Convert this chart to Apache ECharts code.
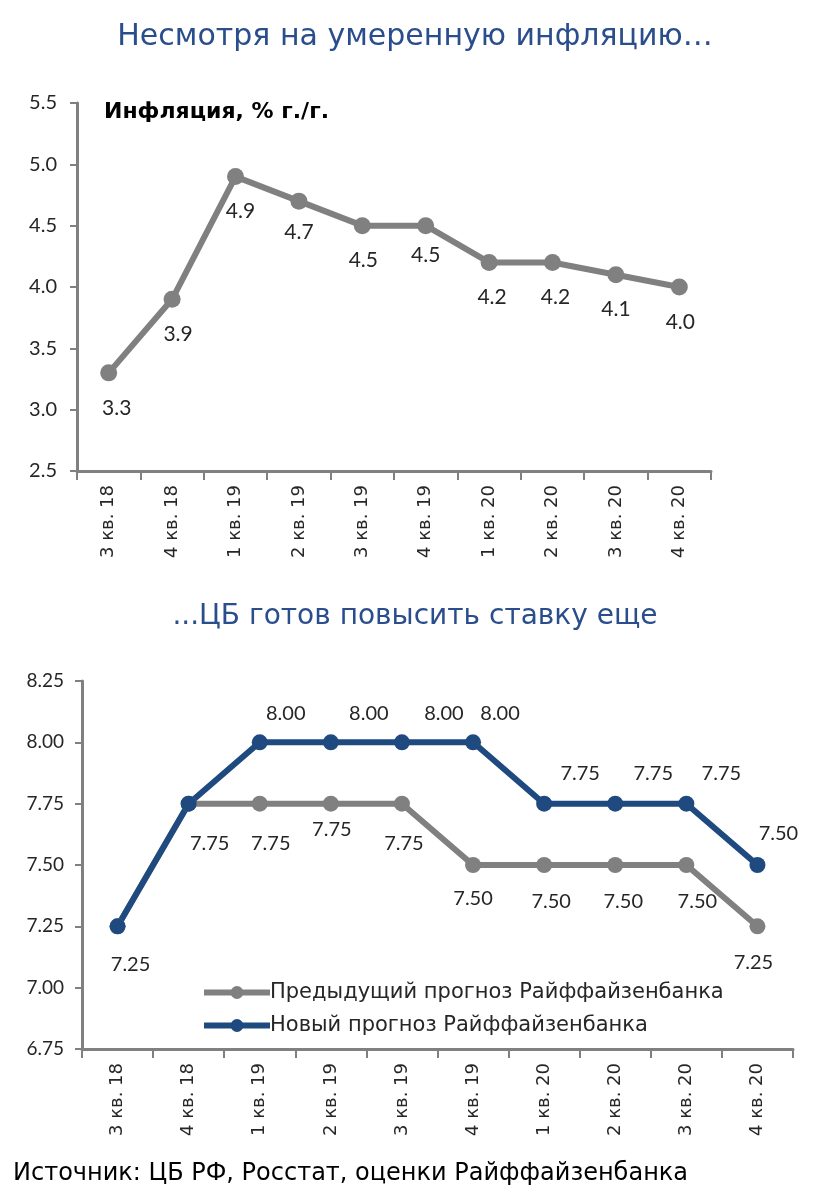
<!DOCTYPE html>
<html>
<head>
<meta charset="utf-8">
<script src="https://cdn.jsdelivr.net/npm/echarts@6/dist/echarts.min.js"></script>
<style>
  html, body { margin: 0; padding: 0; background: #fff; }
  #chart { width: 830px; height: 1196px; }
</style>
</head>
<body>
<div id="chart"></div>
<script>
// кварталы по оси X
var quarters = ['3 кв. 18', '4 кв. 18', '1 кв. 19', '2 кв. 19', '3 кв. 19', '4 кв. 19', '1 кв. 20', '2 кв. 20', '3 кв. 20', '4 кв. 20']
// инфляция, % г./г.
var inflation = [3.3, 3.9, 4.9, 4.7, 4.5, 4.5, 4.2, 4.2, 4.1, 4.0]
// ключевая ставка: прогнозы
var prevForecast = [7.25, 7.75, 7.75, 7.75, 7.75, 7.5, 7.5, 7.5, 7.5, 7.25]
var newForecast = [7.25, 7.75, 8.0, 8.0, 8.0, 8.0, 7.75, 7.75, 7.75, 7.5]
var inflTicks = [2.5, 3.0, 3.5, 4.0, 4.5, 5.0, 5.5]
var rateTicks = [6.75, 7.0, 7.25, 7.5, 7.75, 8.0, 8.25]

// сдвиги подписей (как вручную расставлены в исходнике)
var inflLabelShift = [[8, 0], [6, 0], [5, 0], [0, -4], [1, 0], [0, -5], [3, 0], [3, 0], [0, 0], [1, 0]]
var prevLabelShift = [[13, 2], [21, 4], [11, 4], [1, -10], [2, 4], [0, -2], [7, 1], [8, 1], [11, 1], [-4, 0]]
var newLabelShift = [null, null, [26, 3], [38, 3], [42, 3], [27, 3], [36, 2], [38, 2], [35, 2], [21, 1]]

var gray = '#808080'
var blue = '#1F4A80'
var textColor = '#262626'
var font = 'Lato, "Open Sans", sans-serif'
var wideFont = '"DejaVu Sans", Lato, sans-serif'

function withLabels(values, shifts, pos) {
  return values.map(function (v, i) {
    var s = shifts[i]
    if (!s) return { value: v, label: { show: false } }
    return { value: v, label: { show: true, position: pos, offset: s } }
  })
}

var axisLine = { show: true, lineStyle: { color: gray, width: 3 } }
var axisTick = { show: true, length: 7, lineStyle: { color: gray, width: 2 } }

var chart = echarts.init(document.getElementById('chart'))
chart.setOption({
  animation: false,
  backgroundColor: '#fff',
  textStyle: { fontFamily: font },
  title: [{
    text: 'Несмотря на умеренную инфляцию…',
    left: 'center',
    top: 17,
    textStyle: { color: '#2A4E8C', fontSize: 30, fontWeight: 'normal', fontFamily: wideFont }
  }, {
    text: 'Инфляция, % г./г.',
    left: 99,
    top: 96,
    textStyle: { color: '#000', fontSize: 22, fontWeight: 'bold', fontFamily: wideFont }
  }, {
    text: '...ЦБ готов повысить ставку еще',
    left: 'center',
    top: 598,
    textStyle: { color: '#2A4E8C', fontSize: 28, fontWeight: 'normal', fontFamily: wideFont }
  }, {
    text: 'Источник: ЦБ РФ, Росстат, оценки Райффайзенбанка',
    left: 8,
    top: 1157,
    textStyle: { color: '#000', fontSize: 24, fontWeight: 'normal', fontFamily: wideFont }
  }],
  legend: {
    orient: 'vertical',
    left: 196,
    top: 977,
    itemWidth: 66,
    itemHeight: 16,
    itemGap: 12,
    lineStyle: { width: 6 },
    textStyle: { color: textColor, fontSize: 21, fontFamily: wideFont, padding: [0, 0, 0, -5] },
    data: ['Предыдущий прогноз Райффайзенбанка', 'Новый прогноз Райффайзенбанка']
  },
  grid: [
    { left: 77, right: 119, top: 103, height: 368 },
    { left: 82, right: 37, top: 681, height: 368 }
  ],
  xAxis: [0, 1].map(function (i) {
    return {
      type: 'category',
      gridIndex: i,
      data: quarters,
      boundaryGap: true,
      axisLine: axisLine,
      axisTick: { show: true, length: 9, lineStyle: { color: gray, width: 2 } },
      axisLabel: { rotate: 90, color: textColor, fontSize: 18, fontFamily: wideFont, margin: 14, interval: 0 }
    }
  }),
  yAxis: [{
    type: 'value',
    gridIndex: 0,
    min: inflTicks[0],
    max: inflTicks[inflTicks.length - 1],
    interval: 0.5,
    axisLine: axisLine,
    axisTick: axisTick,
    splitLine: { show: false },
    axisLabel: { color: textColor, fontSize: 20, margin: 20, formatter: function (v) { return v.toFixed(1) } }
  }, {
    type: 'value',
    gridIndex: 1,
    min: rateTicks[0],
    max: rateTicks[rateTicks.length - 1],
    interval: 0.25,
    axisLine: axisLine,
    axisTick: axisTick,
    splitLine: { show: false },
    axisLabel: { color: textColor, fontSize: 19, margin: 18, formatter: function (v) { return v.toFixed(2) } }
  }],
  series: [{
    name: 'Инфляция',
    type: 'line',
    xAxisIndex: 0,
    yAxisIndex: 0,
    data: withLabels(inflation, inflLabelShift, 'bottom'),
    symbol: 'circle',
    symbolSize: 17,
    lineStyle: { color: gray, width: 6 },
    itemStyle: { color: gray },
    label: { distance: 16, color: textColor, fontSize: 21, formatter: function (p) { return p.value.toFixed(1) } }
  }, {
    name: 'Предыдущий прогноз Райффайзенбанка',
    type: 'line',
    xAxisIndex: 1,
    yAxisIndex: 1,
    data: withLabels(prevForecast, prevLabelShift, 'bottom'),
    symbol: 'circle',
    symbolSize: 16,
    lineStyle: { color: gray, width: 6 },
    itemStyle: { color: gray },
    label: { distance: 18, color: textColor, fontSize: 20, formatter: function (p) { return p.value.toFixed(2) } }
  }, {
    name: 'Новый прогноз Райффайзенбанка',
    type: 'line',
    xAxisIndex: 1,
    yAxisIndex: 1,
    z: 3,
    data: withLabels(newForecast, newLabelShift, 'top'),
    symbol: 'circle',
    symbolSize: 16,
    lineStyle: { color: blue, width: 6 },
    itemStyle: { color: blue },
    label: { distance: 14, color: textColor, fontSize: 20, formatter: function (p) { return p.value.toFixed(2) } }
  }]
})
</script>
</body>
</html>
